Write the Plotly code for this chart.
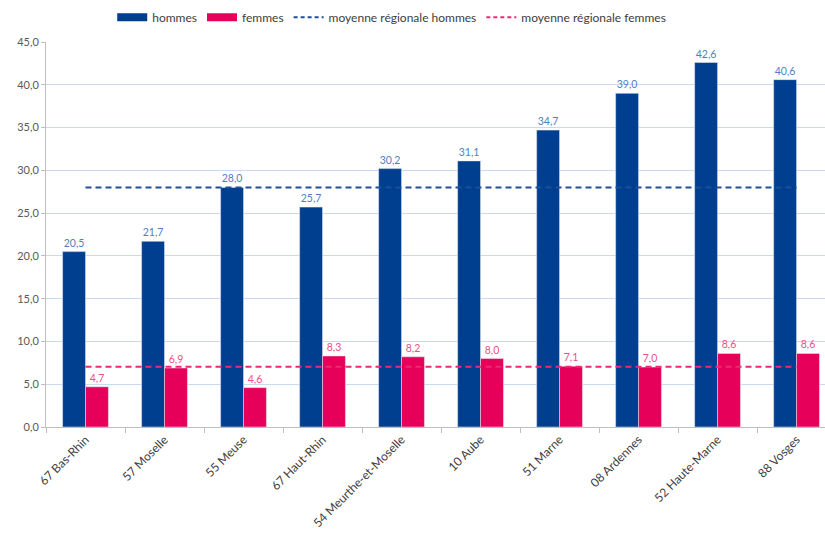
import plotly.graph_objects as go

categories = ["67 Bas-Rhin", "57 Moselle", "55 Meuse", "67 Haut-Rhin", "54 Meurthe-et-Moselle",
              "10 Aube", "51 Marne", "08 Ardennes", "52 Haute-Marne", "88 Vosges"]
hommes = [20.5, 21.7, 28.0, 25.7, 30.2, 31.1, 34.7, 39.0, 42.6, 40.6]
femmes = [4.7, 6.9, 4.6, 8.3, 8.2, 8.0, 7.1, 7.0, 8.6, 8.6]
moy_hommes = [28.0] * len(categories)
moy_femmes = [7.05] * len(categories)

BLUE = "#003f8f"
PINK = "#e6005a"
FONT = "Lato"
DASH = "6px,4px"

fig = go.Figure()
fig.add_trace(go.Bar(x=categories, y=hommes, name="hommes", marker_color=BLUE, showlegend=False,
                     text=[f"{v:.1f}".replace(".", ",") for v in hommes], textposition="outside",
                     textfont=dict(color="#4f7fc0", size=10.5, family=FONT), cliponaxis=False))
fig.add_trace(go.Bar(x=categories, y=femmes, name="femmes", marker_color=PINK, showlegend=False,
                     text=[f"{v:.1f}".replace(".", ",") for v in femmes], textposition="outside",
                     textfont=dict(color="#ec4f86", size=10.5, family=FONT), cliponaxis=False))
fig.add_trace(go.Scatter(x=categories, y=moy_hommes, name="moyenne régionale hommes", mode="lines",
                         line=dict(color="#1f4e9a", width=2, dash=DASH), showlegend=False))
fig.add_trace(go.Scatter(x=categories, y=moy_femmes, name="moyenne régionale femmes", mode="lines",
                         line=dict(color="#ec2a72", width=2, dash=DASH), showlegend=False))

# legend entries
fig.add_trace(go.Scatter(x=[None], y=[None], mode="lines", name="hommes",
                         line=dict(color=BLUE, width=8)))
fig.add_trace(go.Scatter(x=[None], y=[None], mode="lines", name="femmes",
                         line=dict(color=PINK, width=8)))
fig.add_trace(go.Scatter(x=[None], y=[None], mode="lines", name="moyenne régionale hommes",
                         line=dict(color="#1f4e9a", width=2, dash="4px,3px")))
fig.add_trace(go.Scatter(x=[None], y=[None], mode="lines", name="moyenne régionale femmes",
                         line=dict(color="#ec2a72", width=2, dash="4px,3px")))

fig.update_layout(
    width=825, height=537,
    margin=dict(l=46, r=0, t=42, b=110, autoexpand=False),
    paper_bgcolor="white", plot_bgcolor="white",
    barmode="group", bargap=0.42, bargroupgap=0,
    font=dict(family=FONT, size=11, color="#404040"),
    separators=",.",
    showlegend=True,
    legend=dict(orientation="h", x=0.085, xanchor="left", y=0.995, yref="container",
                yanchor="top", font=dict(size=12, color="#404040"), itemwidth=30,
                traceorder="normal", tracegroupgap=0),
    xaxis=dict(range=[-0.5, 9.36], tickangle=-45, showline=True, linecolor="#bfbfbf",
               ticks="outside", tickson="boundaries", ticklen=5, tickcolor="#bfbfbf",
               showgrid=False, tickfont=dict(size=12, color="#404040")),
    yaxis=dict(range=[0, 45], dtick=5, tickformat=".1f", showline=True, linecolor="#bfbfbf",
               ticks="outside", ticklen=4, tickcolor="#bfbfbf",
               gridcolor="#ccdaf0", gridwidth=1, zeroline=False,
               tickfont=dict(size=11, color="#595959")),
)

fig.write_html("out.html")
